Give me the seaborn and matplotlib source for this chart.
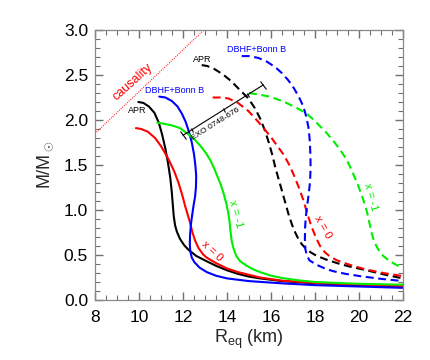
import numpy as np
import seaborn as sns
import matplotlib
matplotlib.use("Agg")
from matplotlib import pyplot as plt
from matplotlib.ticker import MultipleLocator
from matplotlib.markers import MarkerStyle
from matplotlib.transforms import Affine2D

# mass-radius curves (R in km, M in solar masses)
apr_r = [9.97, 10.2, 10.45, 10.7, 10.9, 11.05, 11.2, 11.32, 11.42, 11.49, 11.54, 11.58, 11.64, 11.72, 11.86,
         12.05, 12.24, 12.6, 13.08, 13.5, 14.0, 14.5, 15.0, 15.5, 16.5, 18.0, 20.0, 22.0]
apr_m = [2.20, 2.19, 2.15, 2.08, 1.97, 1.84, 1.68, 1.52, 1.36, 1.20, 1.05, 0.93, 0.83, 0.76, 0.68,
         0.61, 0.56, 0.49, 0.43, 0.38, 0.33, 0.29, 0.26, 0.24, 0.21, 0.185, 0.165, 0.15]

x0_r = [9.86, 10.1, 10.4, 10.73, 11.0, 11.33, 11.6, 11.8, 11.96, 12.09, 12.2, 12.32, 12.43, 12.55, 12.7,
        12.9, 13.08, 13.5, 14.0, 14.5, 15.0, 15.5, 16.5, 18.0, 20.0, 22.0]
x0_m = [1.91, 1.90, 1.87, 1.80, 1.71, 1.57, 1.43, 1.30, 1.17, 1.05, 0.96, 0.86, 0.75, 0.66, 0.58,
        0.51, 0.47, 0.41, 0.35, 0.31, 0.28, 0.25, 0.215, 0.19, 0.17, 0.155]

bonn_r = [10.92, 11.2, 11.5, 11.75, 11.95, 12.12, 12.27, 12.4, 12.5, 12.56, 12.6, 12.59, 12.55, 12.48,
          12.42, 12.36, 12.32, 12.31, 12.33, 12.4, 12.52, 12.75, 13.08, 13.5, 14.0, 15.0, 16.5, 18.0,
          20.0, 22.0]
bonn_m = [2.26, 2.25, 2.21, 2.15, 2.07, 1.98, 1.87, 1.75, 1.62, 1.50, 1.38, 1.26, 1.15, 1.05,
          0.95, 0.84, 0.72, 0.62, 0.54, 0.47, 0.42, 0.36, 0.31, 0.27, 0.24, 0.21, 0.185, 0.165,
          0.15, 0.135]

xm1_r = [10.83, 11.1, 11.5, 11.86, 12.2, 12.5, 12.8, 13.05, 13.25, 13.42, 13.57, 13.72, 13.85, 13.96,
         14.05, 14.11, 14.16, 14.21, 14.3, 14.42, 14.6, 14.9, 15.2, 15.5, 16.0, 16.5, 17.2, 18.0,
         20.0, 22.0]
xm1_m = [1.97, 1.96, 1.94, 1.91, 1.85, 1.79, 1.71, 1.63, 1.55, 1.46, 1.37, 1.28, 1.18, 1.08,
         0.98, 0.88, 0.76, 0.66, 0.57, 0.49, 0.43, 0.38, 0.34, 0.31, 0.27, 0.245, 0.22, 0.20,
         0.18, 0.17]

# dashed (rotating) sequences
apr_rot_r = [12.85, 13.1, 13.4, 13.8, 14.2, 14.6, 14.97, 15.27, 15.5, 15.73, 15.9, 16.05, 16.2, 16.35,
             16.49, 16.65, 16.8, 16.95, 17.1, 17.24, 17.4, 17.55, 17.8, 18.08, 18.5, 19.0, 19.6, 20.35,
             21.2, 22.0]
apr_rot_m = [2.61, 2.60, 2.57, 2.51, 2.43, 2.33, 2.24, 2.13, 2.02, 1.88, 1.75, 1.62, 1.47, 1.34,
             1.22, 1.08, 0.95, 0.84, 0.75, 0.68, 0.62, 0.58, 0.53, 0.49, 0.45, 0.41, 0.37, 0.33,
             0.28, 0.24]

x0_rot_r = [13.35, 13.7, 14.06, 14.5, 14.97, 15.42, 15.73, 16.0, 16.26, 16.56, 16.79, 17.0, 17.25, 17.47,
            17.65, 17.85, 18.05, 18.23, 18.45, 18.7, 19.0, 19.59, 20.3, 21.1, 22.0]
x0_rot_m = [2.25, 2.25, 2.24, 2.19, 2.10, 1.98, 1.89, 1.81, 1.72, 1.62, 1.52, 1.41, 1.26, 1.11,
            0.96, 0.81, 0.69, 0.60, 0.53, 0.48, 0.44, 0.39, 0.34, 0.30, 0.265]

bonn_rot_r = [14.67, 15.0, 15.42, 15.8, 16.18, 16.5, 16.79, 17.05, 17.28, 17.47, 17.6, 17.7, 17.76, 17.79,
              17.8, 17.77, 17.71, 17.64, 17.58, 17.55, 17.54, 17.56, 17.62, 17.75, 18.08, 18.5, 18.83,
              19.4, 20.05, 21.0, 22.0]
bonn_rot_m = [2.71, 2.71, 2.69, 2.65, 2.59, 2.52, 2.44, 2.35, 2.25, 2.15, 2.04, 1.92, 1.78, 1.62,
              1.46, 1.30, 1.17, 1.04, 0.92, 0.80, 0.68, 0.57, 0.50, 0.44, 0.39, 0.345, 0.32,
              0.29, 0.265, 0.235, 0.21]

xm1_rot_r = [15.0, 15.5, 15.95, 16.4, 16.7, 17.2, 17.62, 17.95, 18.23, 18.55, 18.83, 19.14, 19.44, 19.67,
             19.95, 20.2, 20.35, 20.47, 20.58, 20.7, 20.88, 21.1, 21.4, 21.7, 22.0]
xm1_rot_m = [2.30, 2.28, 2.26, 2.22, 2.19, 2.13, 2.07, 2.00, 1.93, 1.85, 1.77, 1.67, 1.56, 1.44,
             1.28, 1.11, 0.99, 0.86, 0.74, 0.64, 0.56, 0.49, 0.43, 0.39, 0.36]

causality_r = [8.0, 12.95]
causality_m = [1.85, 3.0]

exo_r = [12.0, 15.65]
exo_m = [1.83, 2.39]
exo_tick_r = [12.4, 13.85, 14.97]
exo_tick_m = [1.89, 2.11, 2.28]

sns.set_theme(style="ticks")
plt.rcParams['font.family'] = ['Liberation Sans', 'DejaVu Sans']
plt.rcParams['mathtext.fontset'] = 'custom'
plt.rcParams['mathtext.rm'] = 'Liberation Sans'
plt.rcParams['mathtext.it'] = 'Liberation Sans:italic'

fig = plt.figure(figsize=(4.31, 3.6), dpi=100)
ax = fig.add_axes([95 / 431, 60 / 360, 308 / 431, 270 / 360])

green = "#00ee00"
solid = [(apr_r, apr_m, "black"), (x0_r, x0_m, "red"), (bonn_r, bonn_m, "blue"), (xm1_r, xm1_m, green)]
dashed = [(apr_rot_r, apr_rot_m, "black"), (x0_rot_r, x0_rot_m, "red"),
          (bonn_rot_r, bonn_rot_m, "blue"), (xm1_rot_r, xm1_rot_m, green)]

for r, m, c in solid:
    sns.lineplot(x=r, y=m, sort=False, estimator=None, color=c, lw=1.5, ax=ax)
for r, m, c in dashed:
    sns.lineplot(x=r, y=m, sort=False, estimator=None, color=c, lw=1.5,
                 linestyle=(0, (3.8, 2.2)), ax=ax)

sns.lineplot(x=causality_r, y=causality_m, sort=False, estimator=None, color="red", lw=0.8,
             linestyle=(0, (0.8, 1.2)), ax=ax)

# EXO 0748-676 constraint
sns.lineplot(x=exo_r, y=exo_m, sort=False, estimator=None, color="black", lw=0.8, ax=ax)
cap = MarkerStyle("|", transform=Affine2D().rotate_deg(32))
ax.plot(exo_r, exo_m, ls="none", marker=cap, ms=7, mew=0.8, color="black")
ax.plot(exo_tick_r, exo_tick_m, ls="none", marker=cap, ms=4, mew=0.8, color="black")

ax.text(9.73, 2.42, "causality", color="red", fontsize=9, rotation=42, ha="center", va="center")
ax.text(13.5, 1.95, "EXO 0748-676", color="black", fontsize=6, rotation=32, ha="center", va="center")
ax.text(9.9, 2.11, "APR", color="black", fontsize=6.5, ha="center", va="center")
ax.text(11.6, 2.33, "DBHF+Bonn B", color="blue", fontsize=6.5, ha="center", va="center")
ax.text(12.88, 2.67, "APR", color="black", fontsize=6.5, ha="center", va="center")
ax.text(15.33, 2.78, "DBHF+Bonn B", color="blue", fontsize=6.5, ha="center", va="center")
ax.text(13.34, 0.54, "x = 0", color="red", fontsize=8, rotation=-43, ha="center", va="center")
ax.text(14.39, 0.96, "x = -1", color=green, fontsize=8, rotation=-75, ha="center", va="center")
ax.text(18.33, 0.81, "x = 0", color="red", fontsize=8, rotation=-60, ha="center", va="center")
ax.text(20.53, 1.15, "x = -1", color=green, fontsize=8, rotation=-75, ha="center", va="center")

ax.set_xlim(8, 22)
ax.set_ylim(0, 3.0)
ax.xaxis.set_major_locator(MultipleLocator(2))
ax.xaxis.set_minor_locator(MultipleLocator(0.5))
ax.yaxis.set_major_locator(MultipleLocator(0.5))
ax.yaxis.set_minor_locator(MultipleLocator(0.1))
ax.yaxis.set_major_formatter(plt.FormatStrFormatter("%.1f"))
ax.tick_params(which="both", direction="in", bottom=True, left=True, top=True, right=True,
               color="#707070", labelcolor="black", labelsize=12.5)
ax.tick_params(which="major", length=6, width=1.0)
ax.tick_params(which="minor", length=3.5, width=0.8)
ax.tick_params(axis="x", pad=7)
ax.tick_params(axis="y", pad=5)
for s in ax.spines.values():
    s.set_visible(True)
    s.set_color("#888888")
    s.set_linewidth(0.9)

ax.set_xlabel(r"R$_{\rm eq}$ (km)", fontsize=13, labelpad=2)
ax.set_ylabel(r"M/M$_\odot$", fontsize=13, labelpad=6)

fig.savefig("out.png", dpi=100)
